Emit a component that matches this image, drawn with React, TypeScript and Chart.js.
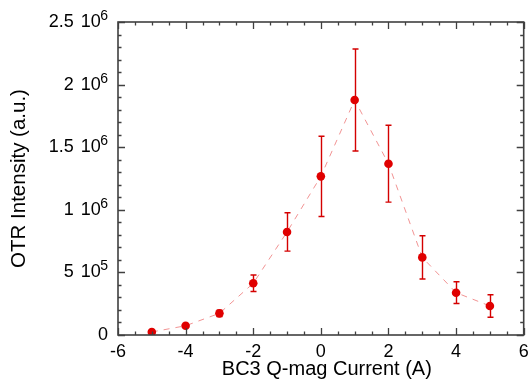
import React, { useEffect, useRef } from "react";
import { Chart, registerables } from "chart.js";

Chart.register(...registerables);

const currents = [-5, -4, -3, -2, -1, 0, 1, 2, 3, 4, 5];
const intensity = [2.4e4, 7.4e4, 1.73e5, 4.13e5, 8.23e5, 1.267e6, 1.877e6, 1.368e6, 6.2e5, 3.38e5, 2.32e5];
const errors = [0, 0, 2.6e4, 6.6e4, 1.53e5, 3.2e5, 4.07e5, 3.07e5, 1.73e5, 8.7e4, 9.0e4];

const xTickValues = [-6, -4, -2, 0, 2, 4, 6];
const xTickLabels = ["-6", "-4", "-2", "0", "2", "4", "6"];
const yTickValues = [0, 5e5, 1e6, 1.5e6, 2e6, 2.5e6];
const yTickMantissa = ["0", "5", "1", "1.5", "2", "2.5"];
const yTickExp = ["", "5", "6", "6", "6", "6"];

const xTitle = "BC3 Q-mag Current (A)";
const yTitle = "OTR Intensity (a.u.)";

const FONT = "'Liberation Sans', Arial, Helvetica, sans-serif";

const framePlugin = {
  id: "framePlugin",
  beforeDatasetsDraw(chart: any) {
    const ctx = chart.ctx;
    const xs = chart.scales.x;
    const ys = chart.scales.y;
    ctx.save();
    ctx.strokeStyle = "#d40000";
    ctx.lineWidth = 1.4;
    currents.forEach((c, i) => {
      const e = errors[i];
      if (!e) return;
      const px = Math.round(xs.getPixelForValue(c)) + 0.5;
      const top = ys.getPixelForValue(intensity[i] + e);
      const bot = ys.getPixelForValue(intensity[i] - e);
      ctx.beginPath();
      ctx.moveTo(px, top);
      ctx.lineTo(px, bot);
      ctx.moveTo(px - 3, top);
      ctx.lineTo(px + 3, top);
      ctx.moveTo(px - 3, bot);
      ctx.lineTo(px + 3, bot);
      ctx.stroke();
    });
    ctx.restore();
  },
  afterDraw(chart: any) {
    const ctx = chart.ctx;
    const xs = chart.scales.x;
    const ys = chart.scales.y;
    const a = chart.chartArea;
    ctx.save();
    ctx.strokeStyle = "#404040";
    ctx.lineWidth = 1.6;
    ctx.strokeRect(a.left, a.top, a.right - a.left, a.bottom - a.top);

    ctx.lineWidth = 1.3;
    ctx.beginPath();
    for (let v = -6; v <= 6.0001; v += 0.5) {
      const px = Math.round(xs.getPixelForValue(v)) + 0.5;
      const major = Math.abs(v / 2 - Math.round(v / 2)) < 1e-6;
      const len = major ? 7 : 3.5;
      ctx.moveTo(px, a.bottom);
      ctx.lineTo(px, a.bottom - len);
      ctx.moveTo(px, a.top);
      ctx.lineTo(px, a.top + len);
    }
    for (let k = 0; k <= 25; k++) {
      const v = k * 1e5;
      const py = Math.round(ys.getPixelForValue(v)) + 0.5;
      const major = k % 5 === 0;
      const len = major ? 7 : 3.5;
      ctx.moveTo(a.left, py);
      ctx.lineTo(a.left + len, py);
      ctx.moveTo(a.right, py);
      ctx.lineTo(a.right - len, py);
    }
    ctx.stroke();

    ctx.fillStyle = "#000";
    ctx.font = `18px ${FONT}`;
    ctx.textAlign = "center";
    ctx.textBaseline = "alphabetic";
    xTickValues.forEach((v, i) => {
      ctx.fillText(xTickLabels[i], xs.getPixelForValue(v), a.bottom + 21.5);
    });

    const rightX = a.left - 10;
    yTickValues.forEach((v, i) => {
      const py = ys.getPixelForValue(v);
      ctx.textAlign = "right";
      if (!yTickExp[i]) {
        ctx.font = `18px ${FONT}`;
        ctx.fillText(yTickMantissa[i], rightX, py + 5);
        return;
      }
      ctx.font = `14px ${FONT}`;
      ctx.fillText(yTickExp[i], rightX, py - 2);
      const supW = ctx.measureText(yTickExp[i]).width;
      ctx.font = `18px ${FONT}`;
      const tenRight = rightX - supW + 0.5;
      ctx.fillText("10", tenRight, py + 5);
      const tenW = ctx.measureText("10").width;
      ctx.fillText(yTickMantissa[i], tenRight - tenW - 7, py + 5);
    });

    ctx.font = `20px ${FONT}`;
    ctx.textAlign = "center";
    ctx.fillText(xTitle, (a.left + a.right) / 2 + 6, a.bottom + 40);
    ctx.save();
    ctx.font = `20.5px ${FONT}`;
    ctx.translate(25, (a.top + a.bottom) / 2);
    ctx.rotate(-Math.PI / 2);
    ctx.fillText(yTitle, 0, 0);
    ctx.restore();
    ctx.restore();
  },
};

export default function App() {
  const ref = useRef<HTMLCanvasElement>(null);
  useEffect(() => {
    document.body.style.margin = "0";
    const chart = new Chart(ref.current as HTMLCanvasElement, {
      type: "scatter",
      data: {
        datasets: [
          {
            data: currents.map((c, i) => ({ x: c, y: intensity[i] })),
            showLine: true,
            borderColor: "rgba(238,120,120,0.8)",
            borderWidth: 1,
            borderDash: [6, 6],
            tension: 0,
            pointRadius: 4.3,
            pointHoverRadius: 4.3,
            pointBackgroundColor: "#e00000",
            pointBorderWidth: 0,
          },
        ],
      },
      options: {
        animation: false,
        responsive: false,
        layout: { padding: { left: 118, top: 22, right: 4, bottom: 52 } },
        plugins: { legend: { display: false }, tooltip: { enabled: false } },
        scales: {
          x: { type: "linear", min: -6, max: 6, display: false },
          y: { type: "linear", min: 0, max: 2.5e6, display: false },
        },
      },
      plugins: [framePlugin],
    });
    return () => chart.destroy();
  }, []);
  return (
    <div style={{ position: "absolute", left: 0, top: 0, width: 528, height: 387 }}>
      <canvas ref={ref} width={528} height={387} />
    </div>
  );
}
